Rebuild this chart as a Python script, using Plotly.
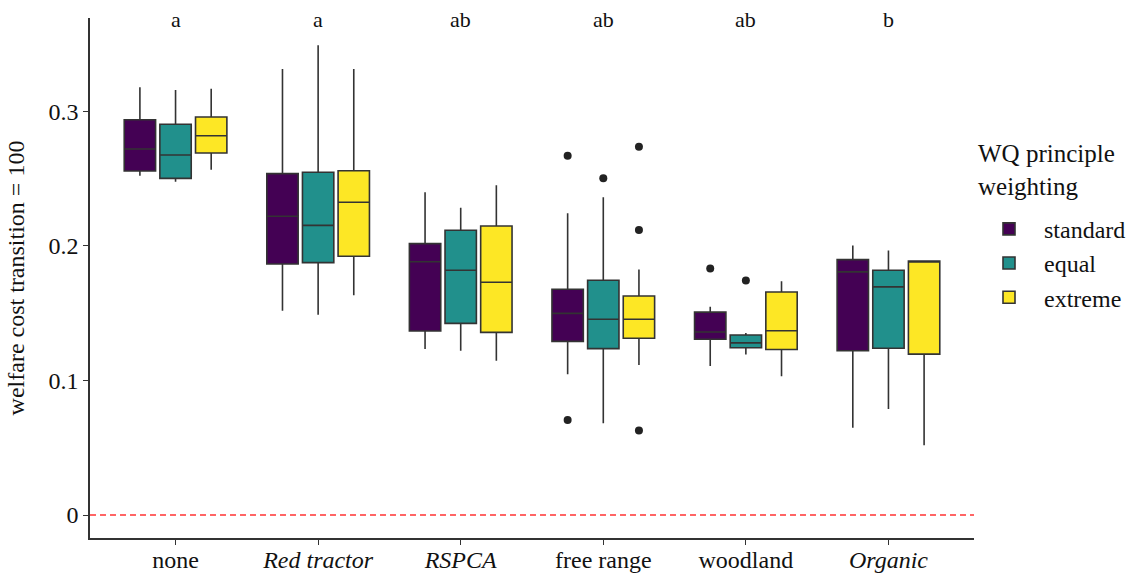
import plotly.graph_objects as go

categories = ["none", "Red tractor", "RSPCA", "free range", "woodland", "Organic"]
tick_labels = ["none", "<i>Red tractor</i>", "<i>RSPCA</i>", "free range", "woodland", "<i>Organic</i>"]
letters = ["a", "a", "ab", "ab", "ab", "b"]
groups = ["standard", "equal", "extreme"]
colors = ["#440154", "#21908C", "#FDE725"]

# per group: values for each category (none, Red tractor, RSPCA, free range, woodland, Organic)
q1 = {
    "standard": [0.2556, 0.1865, 0.1367, 0.1290, 0.1306, 0.1220],
    "equal":    [0.2501, 0.1875, 0.1424, 0.1236, 0.1242, 0.1239],
    "extreme":  [0.2689, 0.1922, 0.1357, 0.1313, 0.1230, 0.1195],
}
median = {
    "standard": [0.2719, 0.2219, 0.1882, 0.1498, 0.1360, 0.1806],
    "equal":    [0.2675, 0.2152, 0.1818, 0.1454, 0.1279, 0.1695],
    "extreme":  [0.2818, 0.2323, 0.1729, 0.1454, 0.1369, 0.1880],
}
q3 = {
    "standard": [0.2937, 0.2536, 0.2016, 0.1677, 0.1507, 0.1897],
    "equal":    [0.2903, 0.2546, 0.2115, 0.1744, 0.1337, 0.1818],
    "extreme":  [0.2957, 0.2558, 0.2147, 0.1627, 0.1657, 0.1887],
}
lower = {
    "standard": [0.2521, 0.1518, 0.1233, 0.1045, 0.1107, 0.0649],
    "equal":    [0.2476, 0.1488, 0.1221, 0.0681, 0.1193, 0.0788],
    "extreme":  [0.2565, 0.1632, 0.1146, 0.1114, 0.1031, 0.0519],
}
upper = {
    "standard": [0.3178, 0.3314, 0.2397, 0.2241, 0.1548, 0.2002],
    "equal":    [0.3158, 0.3490, 0.2283, 0.2360, 0.1352, 0.1965],
    "extreme":  [0.3167, 0.3314, 0.2449, 0.1823, 0.1737, 0.1887],
}
# outliers: (category index, value)
outliers = {
    "standard": [(3, 0.2669), (3, 0.0706), (4, 0.1831)],
    "equal":    [(3, 0.2501), (4, 0.1742)],
    "extreme":  [(3, 0.2736), (3, 0.2117), (3, 0.0627)],
}

dodge = 0.25
box_w = 0.22
FONT = "'Liberation Serif', 'Times New Roman', 'DejaVu Serif', serif"
FS = 24

fig = go.Figure()
for gi, g in enumerate(groups):
    off = (gi - 1) * dodge
    xs = [i + off for i in range(len(categories))]
    fig.add_trace(go.Box(
        name=g, legendgroup=g, x=xs,
        q1=q1[g], median=median[g], q3=q3[g],
        lowerfence=lower[g], upperfence=upper[g],
        width=box_w, whiskerwidth=0,
        fillcolor=colors[gi],
        line=dict(color="#333333", width=1.6),
        boxpoints=False, showlegend=True,
    ))
for gi, g in enumerate(groups):
    off = (gi - 1) * dodge
    fig.add_trace(go.Scatter(
        x=[c + off for c, v in outliers[g]],
        y=[v for c, v in outliers[g]],
        mode="markers", marker=dict(color="#222222", size=8),
        showlegend=False, legendgroup=g, hoverinfo="skip",
    ))

fig.add_hline(y=0, line=dict(color="#FF3333", width=1.5, dash="6px,4px"))

for i, t in enumerate(letters):
    fig.add_annotation(x=i, y=0.368, text=t, showarrow=False,
                       font=dict(family=FONT, size=22, color="#111"),
                       yanchor="middle")

fig.add_annotation(xref="paper", yref="paper", x=1.002, y=0.769,
                   xanchor="left", yanchor="top", align="left", showarrow=False,
                   text="WQ principle<br>weighting",
                   font=dict(family=FONT, size=25, color="#111"))

fig.update_layout(
    width=1133, height=575,
    margin=dict(l=90, r=159, t=18, b=37, autoexpand=False),
    paper_bgcolor="white", plot_bgcolor="white",
    font=dict(family=FONT, size=FS, color="#111"),
    legend=dict(
        font=dict(family=FONT, size=FS, color="#111"),
        x=1.0, xanchor="left", y=0.637, yanchor="top",
        bgcolor="rgba(0,0,0,0)", tracegroupgap=0, itemwidth=60,
    ),
)
fig.update_xaxes(
    range=[-0.6, 5.6], tickmode="array", tickvals=list(range(len(categories))),
    ticktext=tick_labels, showline=True, linecolor="#333", linewidth=1.5,
    ticks="outside", ticklen=5, tickcolor="#333", tickwidth=1.2, automargin=False,
    ticklabelstandoff=-6,
    showgrid=False, zeroline=False, tickfont=dict(family=FONT, size=FS, color="#111"),
)
fig.update_yaxes(
    range=[-0.01709, 0.36924], tickvals=[0, 0.1, 0.2, 0.3], ticktext=["0", "0.1", "0.2", "0.3"],
    showline=True, linecolor="#333", linewidth=1.5, automargin=False,
    ticks="outside", ticklen=5, tickcolor="#333", tickwidth=1.2,
    showgrid=False, zeroline=False, tickfont=dict(family=FONT, size=FS, color="#111"),
    title=dict(text="welfare cost transition = 100", font=dict(family=FONT, size=FS, color="#111"), standoff=17),
)

fig.write_html("out.html")
